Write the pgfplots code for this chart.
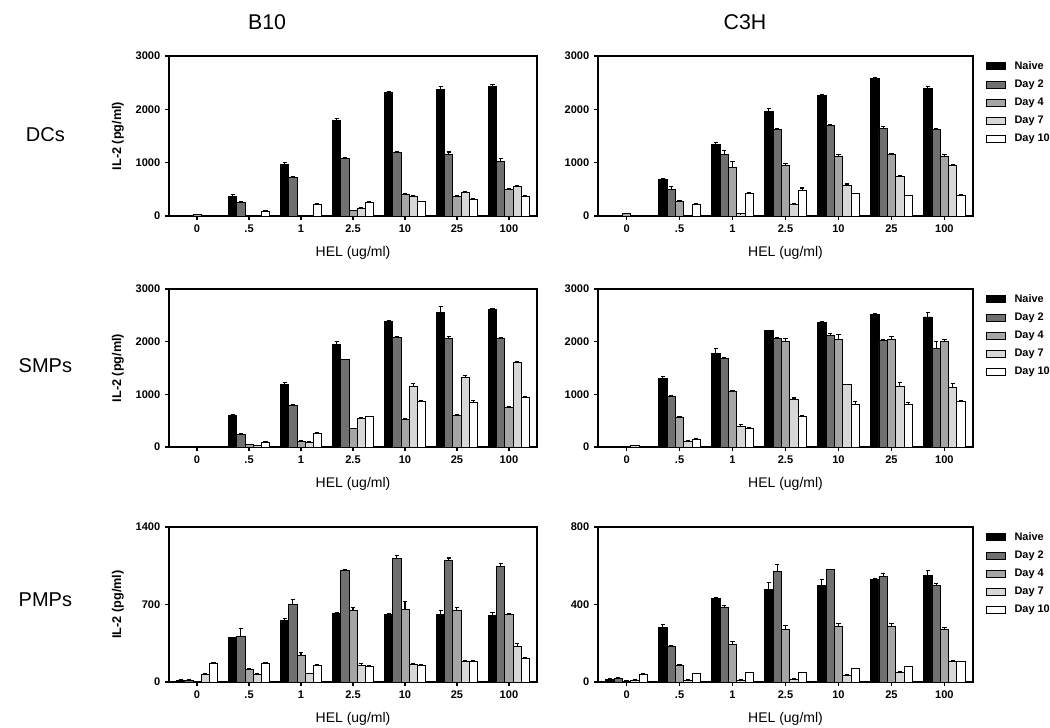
\documentclass[border=0pt]{standalone}
\usepackage{pgfplots}
\pgfplotsset{compat=1.18}
\usepackage{pgfplotstable}
\usepackage{fontspec}
\setmainfont{Liberation Sans}
\definecolor{cN}{RGB}{0,0,0}
\definecolor{cA}{RGB}{112,112,112}
\definecolor{cB}{RGB}{165,165,165}
\definecolor{cC}{RGB}{215,215,215}
\definecolor{cD}{RGB}{255,255,255}

% x n ne a ae b be c ce d de
\pgfplotstableread{
x n ne a ae b be c ce d de
0 10 5 10 5 25 8 10 3 5 2
1 375 20 250 15 10 3 10 3 88 10
2 970 25 725 15 15 3 15 3 220 10
3 1800 20 1075 20 100 10 150 10 250 15
4 2310 30 1190 15 400 15 360 15 270 10
5 2375 50 1150 50 375 15 440 15 310 10
6 2425 40 1020 50 500 20 560 20 375 10
}\tDCb
\pgfplotstableread{
x n ne a ae b be c ce d de
0 10 3 10 3 45 10 10 3 5 2
1 680 30 505 50 275 15 10 3 220 10
2 1340 30 1160 60 915 110 40 5 420 15
3 1960 50 1625 10 940 40 220 10 485 40
4 2255 30 1705 15 1115 40 570 30 420 10
5 2580 20 1640 40 1160 15 750 15 380 10
6 2390 40 1615 20 1120 30 950 10 390 10
}\tDCc
\pgfplotstableread{
x n ne a ae b be c ce d de
0 10 3 10 3 15 3 10 3 10 3
1 600 10 240 15 45 5 25 5 85 10
2 1180 50 790 15 110 10 95 5 260 15
3 1940 60 1660 10 350 10 540 20 575 10
4 2380 15 2080 20 530 20 1160 40 860 20
5 2560 110 2060 40 600 10 1320 40 850 30
6 2620 10 2060 15 750 20 1610 20 940 20
}\tSMb
\pgfplotstableread{
x n ne a ae b be c ce d de
0 15 3 10 3 15 3 30 5 10 3
1 1310 20 960 20 570 15 110 5 140 15
2 1780 90 1680 10 1060 20 390 30 360 10
3 2210 10 2060 20 2000 60 900 30 590 10
4 2370 10 2110 50 2050 80 1180 10 800 60
5 2520 10 2030 10 2050 50 1150 80 800 50
6 2470 80 1870 130 2000 40 1140 60 860 20
}\tSMc
\pgfplotstableread{
x n ne a ae b be c ce d de
0 15 3 15 3 5 2 70 10 170 10
1 400 5 410 70 110 10 70 5 170 5
2 560 15 700 45 240 30 75 5 150 10
3 620 5 1010 5 650 25 150 15 140 5
4 610 5 1120 20 660 70 160 5 150 5
5 610 40 1100 20 650 20 190 5 185 5
6 605 20 1040 30 610 5 320 30 210 10
}\tPMb
\pgfplotstableread{
x n ne a ae b be c ce d de
0 15 5 20 5 5 2 10 3 40 5
1 280 15 185 3 85 5 10 3 43 3
2 430 5 385 10 195 15 10 3 48 3
3 480 35 570 35 270 20 15 5 48 3
4 500 30 580 3 285 15 35 3 68 3
5 530 3 545 15 285 15 52 3 78 3
6 550 25 500 8 270 10 105 5 105 3
}\tPMc

\pgfplotsset{
  panel/.style={
    scale only axis, anchor=south west,
    ybar, bar width=0.157,
    xmin=-0.54, xmax=6.54, ymin=0,
    xtick={0,...,6}, xticklabels={0,.5,1,2.5,10,25,100},
    xtick pos=left, ytick pos=left,
    tick align=outside, major tick length=3pt,
    axis line style={line width=0.9pt},
    every tick/.style={line width=0.9pt, black},
    tick label style={font=\bfseries\fontsize{8.3}{9}\selectfont},
    /pgf/number format/assume math mode=true,
    /pgf/number format/set thousands separator={},
    scaled y ticks=false,
    xlabel={HEL (ug/ml)},
    xlabel style={font=\fontsize{10.5}{12}\selectfont, at={(axis description cs:0.5,0)}, anchor=center, yshift=-28pt},
    ylabel style={font=\bfseries\fontsize{9.5}{11}\selectfont, at={(axis description cs:-0.1386,0.5)}, anchor=center},
    error bars/error bar style={line width=0.8pt, black},
    error bars/error mark options={rotate=90, mark size=1.6pt, line width=0.8pt, black},
    legend image code/.code={\draw[#1, line width=0.6pt] (0pt,-2.6pt) rectangle (14pt,2.6pt); \path (18.5pt,0pt);},
  },
  lcol/.style={width=276pt, ylabel={IL-2 (pg/ml)}},
  rcol/.style={width=281.25pt,
    legend style={draw=none, fill=none, at={(1.035,0.985)}, anchor=north west,
      font=\bfseries\fontsize{8.2}{10}\selectfont, row sep=2.4pt, inner sep=0pt,
      cells={anchor=west},
      /tikz/every odd column/.append style={column sep=0pt},
      /tikz/every even column/.append style={column sep=0pt}},
    legend entries={Naive,Day 2,Day 4,Day 7,Day 10}},
  sN/.style={fill=cN, draw=black, line width=0.6pt, bar shift=-0.314},
  sA/.style={fill=cA, draw=black, line width=0.6pt, bar shift=-0.157},
  sB/.style={fill=cB, draw=black, line width=0.6pt, bar shift=0},
  sC/.style={fill=cC, draw=black, line width=0.6pt, bar shift=0.157},
  sD/.style={fill=cD, draw=black, line width=0.6pt, bar shift=0.314},
}

\newcommand{\bars}[1]{%
  \addplot[sN, error bars/.cd, y dir=plus, y explicit] table[x=x,y=n,y error=ne]{#1};
  \addplot[sA, error bars/.cd, y dir=plus, y explicit] table[x=x,y=a,y error=ae]{#1};
  \addplot[sB, error bars/.cd, y dir=plus, y explicit] table[x=x,y=b,y error=be]{#1};
  \addplot[sC, error bars/.cd, y dir=plus, y explicit] table[x=x,y=c,y error=ce]{#1};
  \addplot[sD, error bars/.cd, y dir=plus, y explicit] table[x=x,y=d,y error=de]{#1};
}

\begin{document}
\begin{tikzpicture}
\useasboundingbox (0pt,0pt) rectangle (787.5pt,-546pt);

\node[font=\fontsize{16}{18}\selectfont] at (200.25pt,-16.5pt) {B10};
\node[font=\fontsize{16}{18}\selectfont] at (558.75pt,-16.5pt) {C3H};
\node[font=\fontsize{15}{17}\selectfont] at (34pt,-101pt) {DCs};
\node[font=\fontsize{15}{17}\selectfont] at (34pt,-274pt) {SMPs};
\node[font=\fontsize{15}{17}\selectfont] at (34pt,-450pt) {PMPs};

% Row 1
\begin{axis}[panel, lcol, at={(126.75pt,-162pt)}, height=120pt, ymax=3000, ytick={0,1000,2000,3000}]
\bars{\tDCb}
\end{axis}
\begin{axis}[panel, rcol, at={(448.5pt,-162pt)}, height=120pt, ymax=3000, ytick={0,1000,2000,3000}]
\bars{\tDCc}
\end{axis}

% Row 2
\begin{axis}[panel, lcol, at={(126.75pt,-335.25pt)}, height=118.5pt, ymax=3000, ytick={0,1000,2000,3000}]
\bars{\tSMb}
\end{axis}
\begin{axis}[panel, rcol, at={(448.5pt,-335.25pt)}, height=118.5pt, ymax=3000, ytick={0,1000,2000,3000}]
\bars{\tSMc}
\end{axis}

% Row 3
\begin{axis}[panel, lcol, at={(126.75pt,-511.5pt)}, height=116.25pt, ymax=1400, ytick={0,700,1400}]
\bars{\tPMb}
\end{axis}
\begin{axis}[panel, rcol, at={(448.5pt,-511.5pt)}, height=116.25pt, ymax=800, ytick={0,400,800}]
\bars{\tPMc}
\end{axis}
\end{tikzpicture}
\end{document}
